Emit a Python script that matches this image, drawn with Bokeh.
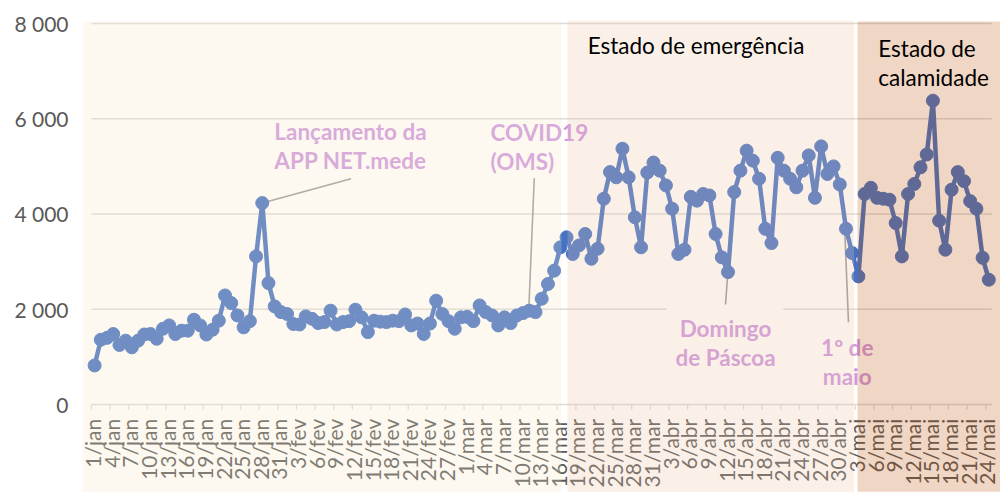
import math
from bokeh.plotting import figure
from bokeh.models import FixedTicker
from bokeh.core.properties import value
from bokeh.embed import file_html
from bokeh.resources import INLINE

# ---------------- data ----------------
day_index = list(range(145))  # 1/jan ... 24/mai (2020)
daily_values = [
    820, 1360, 1400, 1480, 1250, 1340, 1200, 1340, 1470, 1480,
    1380, 1590, 1660, 1480, 1550, 1550, 1780, 1660, 1470, 1570,
    1760, 2290, 2130, 1870, 1620, 1750, 3110, 4230, 2550, 2060,
    1940, 1900, 1690, 1680, 1850, 1800, 1710, 1730, 1970, 1680,
    1730, 1750, 1990, 1830, 1520, 1760, 1740, 1730, 1760, 1750,
    1890, 1660, 1700, 1480, 1700, 2180, 1900, 1750, 1590, 1830,
    1840, 1750, 2080, 1940, 1870, 1660, 1830, 1710, 1870, 1920,
    1970, 1940, 2220, 2530, 2810, 3300, 3510, 3160, 3340, 3580,
    3060, 3270, 4320, 4880, 4770, 5370, 4770, 3930, 3300, 4870,
    5080, 4910, 4600, 4110, 3160, 3250, 4360, 4280, 4420, 4390,
    3580, 3090, 2780, 4460, 4910, 5330, 5120, 4740, 3690, 3390,
    5180, 4910, 4740, 4560, 4910, 5230, 4340, 5420, 4840, 5000,
    4620, 3690, 3180, 2690, 4420, 4550, 4340, 4320, 4300, 3810,
    3110, 4420, 4630, 4980, 5250, 6380, 3860, 3250, 4510, 4880,
    4690, 4270, 4110, 3080, 2620,
]

x_tick_index = list(range(0, 145, 3))
x_tick_labels = [
    "1/jan", "4/jan", "7/jan", "10/jan", "13/jan", "16/jan", "19/jan", "22/jan",
    "25/jan", "28/jan", "31/jan", "3/fev", "6/fev", "9/fev", "12/fev", "15/fev",
    "18/fev", "21/fev", "24/fev", "27/fev", "1/mar", "4/mar", "7/mar", "10/mar",
    "13/mar", "16/mar", "19/mar", "22/mar", "25/mar", "28/mar", "31/mar", "3/abr",
    "6/abr", "9/abr", "12/abr", "15/abr", "18/abr", "21/abr", "24/abr", "27/abr",
    "30/abr", "3/mai", "6/mai", "9/mai", "12/mai", "15/mai", "18/mai", "21/mai",
    "24/mai",
]
y_ticks = [0, 2000, 4000, 6000, 8000]
y_tick_labels = ["0", "2 000", "4 000", "6 000", "8 000"]

# event annotations: (lines of text, index of the day pointed to)
event_lines = [["Lançamento da", "APP NET.mede"], ["COVID19", "(OMS)"],
               ["Domingo", "de Páscoa"], ["1º de", "maio"]]
event_day = [27, 70, 102, 121]

period_titles = [["Estado de emergência"], ["Estado de", "calamidade"]]

# ---------------- layout / style ----------------
X0, X1 = -1.95, 145.88
Y0, Y1 = -1869, 8063
LINE_BLUE = "#4472C4"
PINK = "#CF98E2"
GRID = "#DBDBDB"
LABEL_GREY = "#595959"
FONT = value("Lato")

p = figure(width=1000, height=493, x_range=(X0, X1), y_range=(Y0, Y1),
           x_axis_type=None, output_backend="svg", toolbar_location=None,
           min_border_left=82, min_border_right=0, min_border_top=20,
           min_border_bottom=0)
p.outline_line_color = None
p.grid.visible = False
p.background_fill_color = "white"

ax = p.yaxis[0]
ax.ticker = FixedTicker(ticks=y_ticks)
ax.major_label_overrides = {t: l for t, l in zip(y_ticks, y_tick_labels)}
ax.axis_line_color = None
ax.major_tick_line_color = None
ax.minor_tick_line_color = None
ax.major_tick_out = 0
ax.major_tick_in = 0
ax.major_label_standoff = 14
ax.major_label_text_font = "Lato"
ax.major_label_text_font_size = "21px"
ax.major_label_text_color = LABEL_GREY

# horizontal gridlines (2 000 .. 8 000) and the category axis line at 0
first_edge, last_edge = day_index[0] - 0.5, day_index[-1] + 0.5
p.segment(x0=[first_edge] * 4, x1=[last_edge] * 4, y0=y_ticks[1:], y1=y_ticks[1:],
          line_color=GRID, line_width=1.6)
p.segment(x0=[first_edge], x1=[last_edge], y0=[0], y1=[0], line_color=GRID, line_width=1.6)
tick_edges = [i - 0.5 for i in x_tick_index]
p.segment(x0=tick_edges, x1=tick_edges, y0=[0] * len(tick_edges),
          y1=[-110] * len(tick_edges), line_color=GRID, line_width=1.3)

# white box behind the "Domingo de Páscoa" label (interrupts the gridline)
p.quad(left=[92.1], right=[110.9], bottom=[1750], top=[2250],
       fill_color="white", line_color=None)

# x tick labels (rotated)
p.text(x=x_tick_index, y=[-300] * len(x_tick_index), text=x_tick_labels,
       angle=math.pi / 2, text_align="right", text_baseline="middle",
       x_offset=-2, text_font=FONT, text_font_size="21px", text_color=LABEL_GREY)

# leader lines
lead_x0 = [27.0, 70.8, 101.9, 120.8]
lead_y0 = [4230, 4752, 2646, 3654]
lead_x1 = [41.3, 69.9, 101.6, 121.4]
lead_y1 = [4739, 1938, 2100, 1728]
p.segment(x0=lead_x0, y0=lead_y0, x1=lead_x1, y1=lead_y1,
          line_color="#9A9A9A", line_width=1.6)

# event labels
ev_x = [41.2, 63.75, 101.6, 121.2]
ev_y = [5732, 5711, 1596, 1197]
ev_align = ["center", "left", "center", "center"]
line_gap = 606
for lines, x, y, al in zip(event_lines, ev_x, ev_y, ev_align):
    p.text(x=[x] * len(lines), y=[y - k * line_gap for k in range(len(lines))],
           text=lines, text_align=al, text_baseline="middle",
           text_font=FONT, text_font_style="bold", text_font_size="22.5px",
           text_color=PINK)

# series
p.line(day_index, daily_values, line_color=LINE_BLUE, line_width=4.5)
p.scatter(day_index, daily_values, size=13, fill_color=LINE_BLUE, line_color=LINE_BLUE)

# period shading (translucent, drawn over everything below)
period_left = [X0, 76.15, 122.85]
period_right = [75.19, 122.29, X1]
period_color = ["#F7E6C2", "#EBC4A5", "#BE4D00"]
period_alpha = [0.246, 0.257, 0.23]
period_top = [8040, 8063, 8040]
for l, r, c, a, t in zip(period_left, period_right, period_color, period_alpha, period_top):
    p.quad(left=[l], right=[r], bottom=[-1830], top=[t], fill_color=c,
           fill_alpha=a, line_color=None)

# period titles
title_x = [79.4, 126.2]
title_y = [7538, 7475]
for lines, x, y in zip(period_titles, title_x, title_y):
    p.text(x=[x] * len(lines), y=[y - k * line_gap for k in range(len(lines))],
           text=lines, text_align="left", text_baseline="middle",
           text_font=FONT, text_font_size="22.5px", text_color="black")

open("out.html", "w").write(file_html(p, INLINE))
